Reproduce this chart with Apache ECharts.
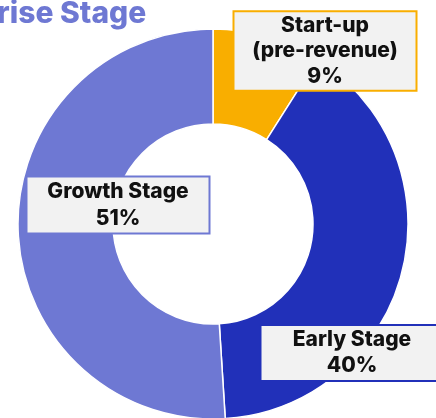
<!DOCTYPE html>
<html>
<head>
<meta charset="utf-8">
<script src="https://cdn.jsdelivr.net/npm/echarts@6/dist/echarts.min.js"></script>
<style>
  html, body { margin: 0; padding: 0; background: #ffffff; }
  #chart { width: 436px; height: 418px; }
</style>
</head>
<body>
<div id="chart"></div>
<script>
// Share of companies by enterprise stage
const stageNames = ['Start-up\n(pre-revenue)', 'Early Stage', 'Growth Stage'];
const stageShares = [9, 40, 51];
const stageColors = ['#F9AE00', '#2130B9', '#6E78D3'];

// Label box centres, one per slice
const labelCentres = [[325, 51], [352, 353], [118, 205]];
const labelPadding = [[0, 0, 1, 0], [1, 0, 1, 0], [0, 0, 2, 0]];
const labelLineHeights = [25.5, 26, 26.5];

const chart = echarts.init(document.getElementById('chart'), null, { renderer: 'canvas' });

const data = stageNames.map((name, i) => ({
  name: name,
  value: stageShares[i],
  itemStyle: { color: stageColors[i] },
  label: { borderColor: stageColors[i], padding: labelPadding[i], lineHeight: labelLineHeights[i] }
}));

chart.setOption({
  animation: false,
  graphic: [{
    type: 'text',
    left: -3,
    top: -1,
    style: {
      text: 'rise Stage',
      fill: '#6E78D3',
      font: '800 30px Inter, "Noto Sans", sans-serif'
    }
  }],
  series: [{
    type: 'pie',
    center: [213, 224],
    radius: [100, 195],
    startAngle: 90,
    clockwise: true,
    avoidLabelOverlap: false,
    itemStyle: { borderColor: '#ffffff', borderWidth: 1.5 },
    label: {
      show: true,
      position: 'inside',
      formatter: p => p.name + '\n' + p.value + '%',
      color: '#111111',
      fontFamily: 'Inter, "Noto Sans", sans-serif',
      fontWeight: 800,
      fontSize: 21,
      align: 'center',
      width: 181,
      backgroundColor: '#F2F2F2',
      borderWidth: 2
    },
    labelLine: { show: false },
    labelLayout: function (params) {
      const c = labelCentres[params.dataIndex];
      return { x: c[0], y: c[1], align: 'center', verticalAlign: 'middle' };
    },
    emphasis: { disabled: true },
    data: data
  }]
});
</script>
</body>
</html>
